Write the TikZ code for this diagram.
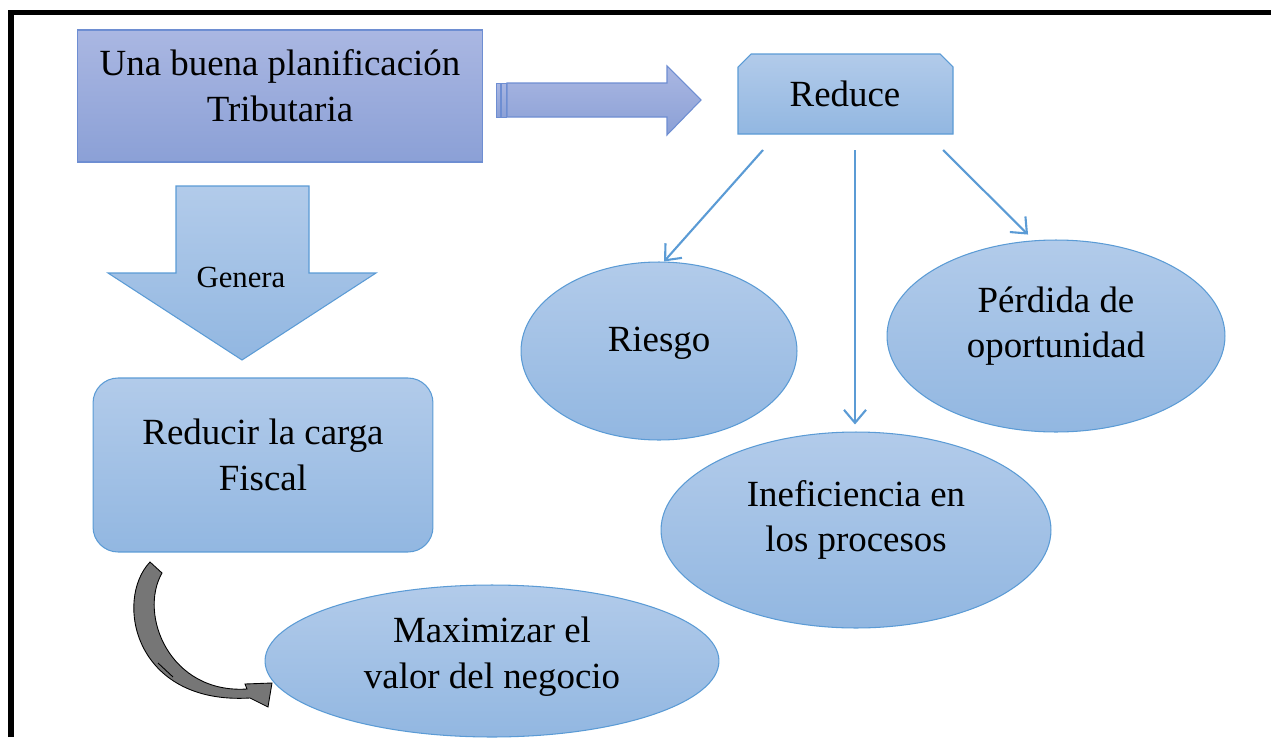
\documentclass[tikz,border=0pt]{standalone}
\usepackage{fontspec}
\setmainfont{Liberation Serif}
\usetikzlibrary{shapes.geometric, arrows.meta, positioning, calc}
\definecolor{planfill}{RGB}{170,183,226}
\definecolor{planfilldark}{RGB}{139,160,214}
\definecolor{planedge}{RGB}{110,142,210}
\definecolor{skyfill}{RGB}{178,203,234}
\definecolor{skyfilldark}{RGB}{146,183,225}
\definecolor{skyedge}{RGB}{91,155,213}
\definecolor{curvegray}{RGB}{118,118,118}

\begin{document}
\begin{tikzpicture}[x=0.02cm, y=-0.02cm,
        planbox/.style={rectangle, draw=planedge, top color=planfill, bottom color=planfilldark, line width=0.6pt, inner sep=0pt},
        skybox/.style={draw=skyedge, top color=skyfill, bottom color=skyfilldark, line width=0.6pt, inner sep=0pt},
        bubble/.style={ellipse, skybox},
        arrow/.style={-{Straight Barb[length=0.26cm, width=0.44cm]}, skyedge, line width=1.2pt},
        txt/.style={font=\fontsize{21}{26}\selectfont, align=center}
    ]
        \useasboundingbox (0,0) rectangle (1271,737);

        % Frame
        \draw[line width=0.12cm] (11,737) -- (11,12.5) -- (1271,12.5);

        % Planning box
        \node[planbox, minimum width=8.12cm, minimum height=2.64cm] (plan) at (280,96) {};
        \node[txt] (plantxt) at (280,86) {Una buena planificación\\Tributaria};

        % Striped block arrow
        \path[draw=planedge, top color=planfill, bottom color=planfilldark, line width=0.5pt]
            (496,83) rectangle (500,117);
        \path[draw=planedge, top color=planfill, bottom color=planfilldark, line width=0.5pt]
            (501,83) rectangle (506,117);
        \path[draw=planedge, top color=planfill, bottom color=planfilldark, line width=0.6pt]
            (507,83) -- (667,83) -- (667,66) -- (701,100) -- (667,135) -- (667,117) -- (507,117) -- cycle;

        % Reduce (snipped top corners)
        \path[skybox] (738,134) -- (738,67) -- (751,54) -- (940,54) -- (953,67) -- (953,134) -- cycle;
        \node[txt] (reduce) at (845,94) {Reduce};

        % Genera block arrow
        \path[skybox] (176,186) -- (309,186) -- (309,273) -- (376,273) -- (242,360)
            -- (108,273) -- (176,273) -- cycle;
        \node[font=\fontsize{17.5}{21}\selectfont] (genera) at (241,277) {Genera};

        % Reduce the tax burden
        \node[rectangle, rounded corners=0.5cm, skybox, minimum width=6.8cm, minimum height=3.48cm] (carga) at (263,465) {};
        \node[txt] (cargatxt) at (263,455) {Reducir la carga\\Fiscal};

        % Ellipses
        \node[bubble, minimum width=5.52cm, minimum height=3.56cm] (riesgo) at (659,351) {};
        \node[txt] (riesgotxt) at (659,343) {Riesgo};
        \node[bubble, minimum width=6.76cm, minimum height=3.84cm] (perdida) at (1056,336) {};
        \node[txt] (perdidatxt) at (1056,326) {Pérdida de\\oportunidad};
        \node[bubble, minimum width=7.8cm, minimum height=3.92cm] (inef) at (856,530) {};
        \node[txt] (ineftxt) at (856,520) {Ineficiencia en\\los procesos};
        \node[bubble, minimum width=9.08cm, minimum height=3.04cm] (maxim) at (492,661) {};
        \node[txt] (maximtxt) at (492,657) {Maximizar el\\valor del negocio};

        % Arrows from Reduce
        \coordinate (r1) at (763,150);
        \coordinate (r2) at (855,150);
        \coordinate (r3) at (943,150);
        \draw[arrow] (r1) -- ([xshift=0.1cm]riesgo.north);
        \draw[arrow, shorten >=0.14cm] (r2) -- (r2 |- inef.north);
        \draw[arrow, shorten >=0.14cm] (r3) -- ([xshift=-0.46cm]perdida.north);

        % Curved arrow
        \draw[fill=curvegray, line width=0.5pt] (150,562) .. controls (114,600) and (134,705) .. (250,698)
            -- (268,707) -- (272,683) -- (245,684) -- (247,689)
            .. controls (170,694) and (138,615) .. (162,573) -- cycle;
        \draw[line width=0.5pt] (158,663) -- (173,677);

    \end{tikzpicture}
\end{document}
